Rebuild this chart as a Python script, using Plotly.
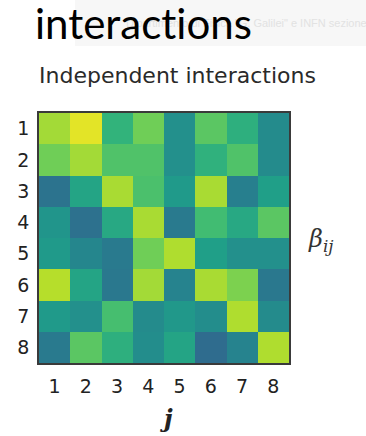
import plotly.graph_objects as go

# ---- data ----
i_labels = ["1", "2", "3", "4", "5", "6", "7", "8"]
j_labels = ["1", "2", "3", "4", "5", "6", "7", "8"]
beta_row1 = [0.86, 0.96, 0.65, 0.78, 0.50, 0.74, 0.63, 0.48]
beta_row2 = [0.78, 0.86, 0.72, 0.72, 0.50, 0.64, 0.72, 0.48]
beta_row3 = [0.38, 0.58, 0.87, 0.71, 0.54, 0.87, 0.43, 0.56]
beta_row4 = [0.52, 0.37, 0.60, 0.87, 0.41, 0.69, 0.60, 0.74]
beta_row5 = [0.54, 0.46, 0.41, 0.78, 0.88, 0.56, 0.50, 0.50]
beta_row6 = [0.89, 0.58, 0.40, 0.86, 0.45, 0.87, 0.80, 0.40]
beta_row7 = [0.54, 0.50, 0.70, 0.48, 0.53, 0.49, 0.88, 0.48]
beta_row8 = [0.41, 0.74, 0.63, 0.49, 0.58, 0.35, 0.45, 0.88]
beta = [beta_row1, beta_row2, beta_row3, beta_row4,
        beta_row5, beta_row6, beta_row7, beta_row8]

W, H = 366, 436
L, R, T, B = 39, 77, 113, 73
PW, PH = W - L - R, H - T - B


def px(x):
    return (x - L) / PW


def py(y):
    return (H - B - y) / PH


fig = go.Figure(go.Heatmap(
    z=beta, x=j_labels, y=i_labels,
    colorscale="Viridis", zmin=0, zmax=1, showscale=False,
    hoverinfo="skip",
))

fig.update_layout(
    width=W, height=H,
    margin=dict(l=L, r=R, t=T, b=B, pad=0),
    paper_bgcolor="white", plot_bgcolor="white",
    showlegend=False,
    xaxis=dict(type="category", tickfont=dict(family="DejaVu Sans", size=19, color="#222"),
               ticks="outside", ticklen=5, tickcolor="rgba(0,0,0,0)",
               showline=True, mirror=True, linecolor="#3a3a3a", linewidth=1.5,
               showgrid=False, zeroline=False, fixedrange=True),
    yaxis=dict(type="category", autorange="reversed",
               tickfont=dict(family="DejaVu Sans", size=19, color="#222"),
               ticks="outside", ticklen=4, tickcolor="rgba(0,0,0,0)",
               showline=True, mirror=True, linecolor="#3a3a3a", linewidth=1.5,
               showgrid=False, zeroline=False, fixedrange=True),
    shapes=[dict(type="rect", xref="paper", yref="paper",
                 x0=px(75), x1=px(W + 5), y0=py(46), y1=py(-5),
                 fillcolor="#f7f7f7", line=dict(width=0), layer="below")],
    annotations=[
        dict(text='Dipartimento di Fisica "G. Galilei" e INFN sezione',
             xref="paper", yref="paper", x=px(124), y=py(23),
             xanchor="left", yanchor="middle", showarrow=False,
             font=dict(family="Liberation Sans", size=11, color="#e2e2e2")),
        dict(text="interact\u200cions", xref="paper", yref="paper",
             x=px(33), y=py(23), xanchor="left", yanchor="middle",
             showarrow=False,
             font=dict(family="Lato", size=42, color="black")),
        dict(text="Independent interactions", xref="paper", yref="paper",
             x=px(177), y=py(75), xanchor="center", yanchor="middle",
             showarrow=False,
             font=dict(family="DejaVu Sans", size=22, color="#2a2a2a")),
        dict(text="<b><i>j</i></b>", xref="paper", yref="paper",
             x=px(166), y=py(418), xanchor="center", yanchor="middle",
             showarrow=False,
             font=dict(family="DejaVu Serif", size=24, color="#222")),
        dict(text="<i>β<sub>ij</sub></i>", xref="paper", yref="paper",
             x=px(320), y=py(240), xanchor="center", yanchor="middle",
             showarrow=False,
             font=dict(family="DejaVu Serif", size=24, color="#333")),
    ],
)

fig.write_html("out.html", config={"displayModeBar": False},
               post_script="document.body.style.margin='0px';document.body.style.overflow='hidden';")
